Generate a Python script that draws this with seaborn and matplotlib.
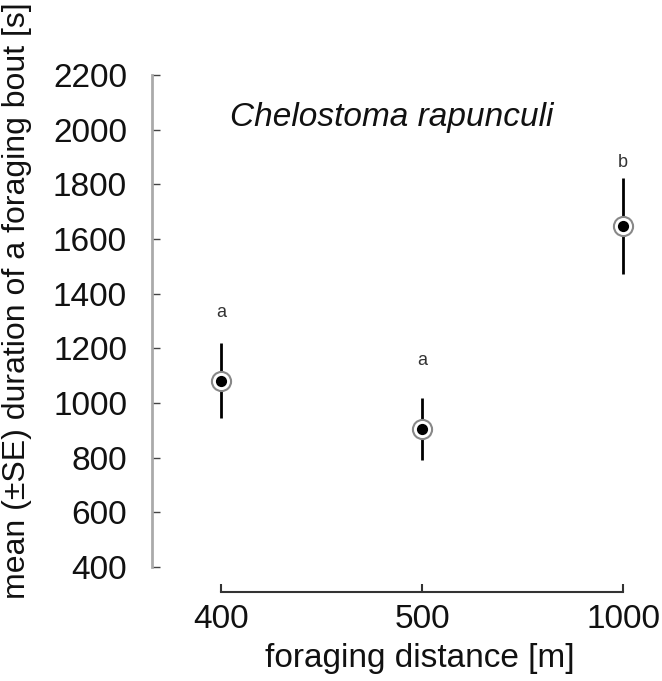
import matplotlib
matplotlib.use("Agg")
import matplotlib.pyplot as plt
import seaborn as sns
import pandas as pd

distances = ["400", "500", "1000"]
means = [1080, 905, 1648]
se_upper = [1220, 1020, 1822]
se_lower = [945, 790, 1472]
letters = ["a", "a", "b"]
letter_y = [1330, 1155, 1880]
y_ticks = [400, 600, 800, 1000, 1200, 1400, 1600, 1800, 2000, 2200]

sns.set_style("white")
plt.rcParams["font.family"] = ["Liberation Sans", "DejaVu Sans"]

df = pd.DataFrame({"distance": distances, "mean": means})

W, H = 662, 681
fig = plt.figure(figsize=(W / 100, H / 100), dpi=100)
left, right, top, bottom = 152, 650, 75, 567
ax = fig.add_axes([left / W, 1 - bottom / H, (right - left) / W, (bottom - top) / H])

pos = list(range(len(distances)))
ax.vlines(pos, se_lower, se_upper, color="black", lw=2, zorder=2)
sns.scatterplot(data=df, x="distance", y="mean", ax=ax, s=190, color="white",
                edgecolor="#888888", linewidth=1.5, zorder=3, legend=False)
sns.scatterplot(data=df, x="distance", y="mean", ax=ax, s=65, color="black",
                edgecolor="black", linewidth=0, zorder=4, legend=False)

for p, l, y in zip(pos, letters, letter_y):
    ax.text(p, y, l, ha="center", va="center", fontsize=13, color="#333333")

ax.text(0.85, 2043, "Chelostoma rapunculi", style="italic", ha="center", va="center",
        fontsize=24, color="#111111")

ax.set_xlim(-0.343, 2.134)
ax.set_ylim(400, 2200)
ax.set_yticks(y_ticks)
ax.set_xticks(pos)
ax.set_xticklabels(distances)

for s in ["top", "right"]:
    ax.spines[s].set_visible(False)
ax.spines["left"].set_color("#aaaaaa")
ax.spines["left"].set_linewidth(2)
ax.spines["left"].set_bounds(400, 2200)
ax.spines["bottom"].set_position(("outward", 18))
ax.spines["bottom"].set_bounds(0, 2)
ax.spines["bottom"].set_color("#333333")
ax.spines["bottom"].set_linewidth(1.5)

ax.tick_params(axis="y", direction="in", length=6, width=1, color="#444444",
               labelsize=24, pad=18, left=True, labelcolor="#111111")
ax.tick_params(axis="x", direction="in", length=6, width=1.5, color="#333333",
               labelsize=24, pad=9, bottom=True, labelcolor="#111111")

ax.set_xlabel("")
ax.set_ylabel("")
fig.text(420 / W, 1 - 659 / H, "foraging distance [m]", ha="center", va="center",
         fontsize=24, color="#111111")
fig.text(17 / W, 1 - 301 / H, "mean (\u00b1SE) duration of a foraging bout [s]",
         rotation=90, ha="center", va="center", fontsize=23, color="#111111")

fig.savefig("out.png", dpi=100)
